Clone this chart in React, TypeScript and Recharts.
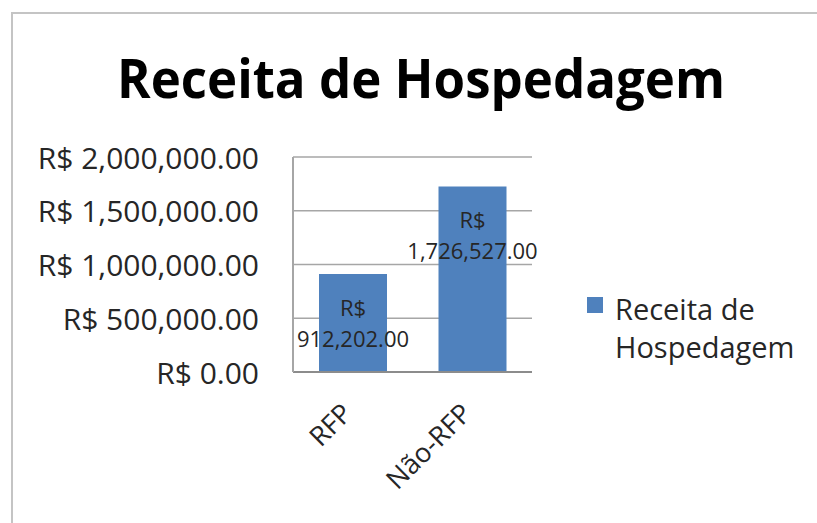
import React from "react";
import { BarChart, Bar, XAxis, YAxis, CartesianGrid, Legend, LabelList } from "recharts";

const categories = ["RFP", "Não-RFP"];
const revenue = [912202, 1726527];
const yTicks = [0, 500000, 1000000, 1500000, 2000000];
const seriesName = "Receita de Hospedagem";
const title = "Receita de Hospedagem";

const FONT = "'Open Sans', 'Noto Sans', sans-serif";
const BAR_COLOR = "#4f81bd";

const data = categories.map((name, i) => ({ name, value: revenue[i] }));

const money = (v: number) =>
  v.toLocaleString("en-US", { minimumFractionDigits: 2, maximumFractionDigits: 2 });

function YTick({ x, y, payload }: any) {
  return (
    <text x={x} y={y} textAnchor="end" dominantBaseline="central" fontSize={30} fontFamily={FONT} fill="#262626">
      {`R$ ${money(payload.value)}`}
    </text>
  );
}

function XTick({ x, y, payload }: any) {
  return (
    <g transform={`translate(${x + 1}, ${y}) rotate(-45)`}>
      <text x={0} y={0} textAnchor="end" fontSize={27} fontFamily={FONT} fill="#262626">
        {payload.value}
      </text>
    </g>
  );
}

function ValueLabel({ x, y, width, value }: any) {
  const cx = x + width / 2;
  return (
    <text textAnchor="middle" dominantBaseline="central" fontSize={22} fontFamily={FONT} fill="#262626">
      <tspan x={cx} y={y + 33}>R$</tspan>
      <tspan x={cx} y={y + 64}>{money(value)}</tspan>
    </text>
  );
}

function LegendBox({ payload }: any) {
  const item = payload?.[0];
  return (
    <div style={{ display: "flex", alignItems: "flex-start", fontFamily: FONT, fontSize: 29, lineHeight: "38px", color: "#262626" }}>
      <span style={{ width: 16, height: 16, marginTop: 7, background: item?.color ?? BAR_COLOR, flex: "none" }} />
      <span style={{ marginLeft: 12, width: 180 }}>{item?.value ?? seriesName}</span>
    </div>
  );
}

export default function App() {
  return (
    <div style={{ position: "absolute", left: 0, top: 0, width: 817, height: 523, background: "#fff", overflow: "hidden" }}>
      <div
        style={{
          position: "absolute",
          left: 11,
          top: 12,
          width: 817,
          height: 523,
          borderTop: "2px solid #c4c4c4",
          borderLeft: "2px solid #c4c4c4",
        }}
      />
      <svg width={817} height={130} style={{ position: "absolute", left: 0, top: 0 }}>
        <text
          x={421}
          y={98}
          textAnchor="middle"
          fontSize={53}
          fontWeight={700}
          fontFamily={FONT}
          fill="#000"
          textLength={608}
          lengthAdjust="spacingAndGlyphs"
        >
          {title}
        </text>
      </svg>
      <div style={{ position: "absolute", left: 0, top: 0 }}>
        <BarChart width={817} height={523} data={data} margin={{ top: 157, right: 85, bottom: 51, left: 33 }}>
          <CartesianGrid vertical={false} stroke="#a6a6a6" strokeWidth={1.5} />
          <XAxis
            dataKey="name"
            height={100}
            axisLine={{ stroke: "#8c8c8c", strokeWidth: 2 }}
            tickLine={false}
            tickSize={0}
            tickMargin={43}
            tick={<XTick />}
            interval={0}
          />
          <YAxis
            width={260}
            domain={[0, 2000000]}
            ticks={yTicks}
            axisLine={{ stroke: "#a6a6a6", strokeWidth: 2 }}
            tickLine={false}
            tickSize={0}
            tickMargin={34}
            tick={<YTick />}
          />
          <Legend
            layout="vertical"
            align="right"
            verticalAlign="middle"
            wrapperStyle={{ left: 587, top: 290, width: 200 }}
            content={<LegendBox />}
          />
          <Bar dataKey="value" name={seriesName} fill={BAR_COLOR} barSize={68} isAnimationActive={false}>
            <LabelList dataKey="value" content={<ValueLabel />} />
          </Bar>
        </BarChart>
      </div>
    </div>
  );
}
